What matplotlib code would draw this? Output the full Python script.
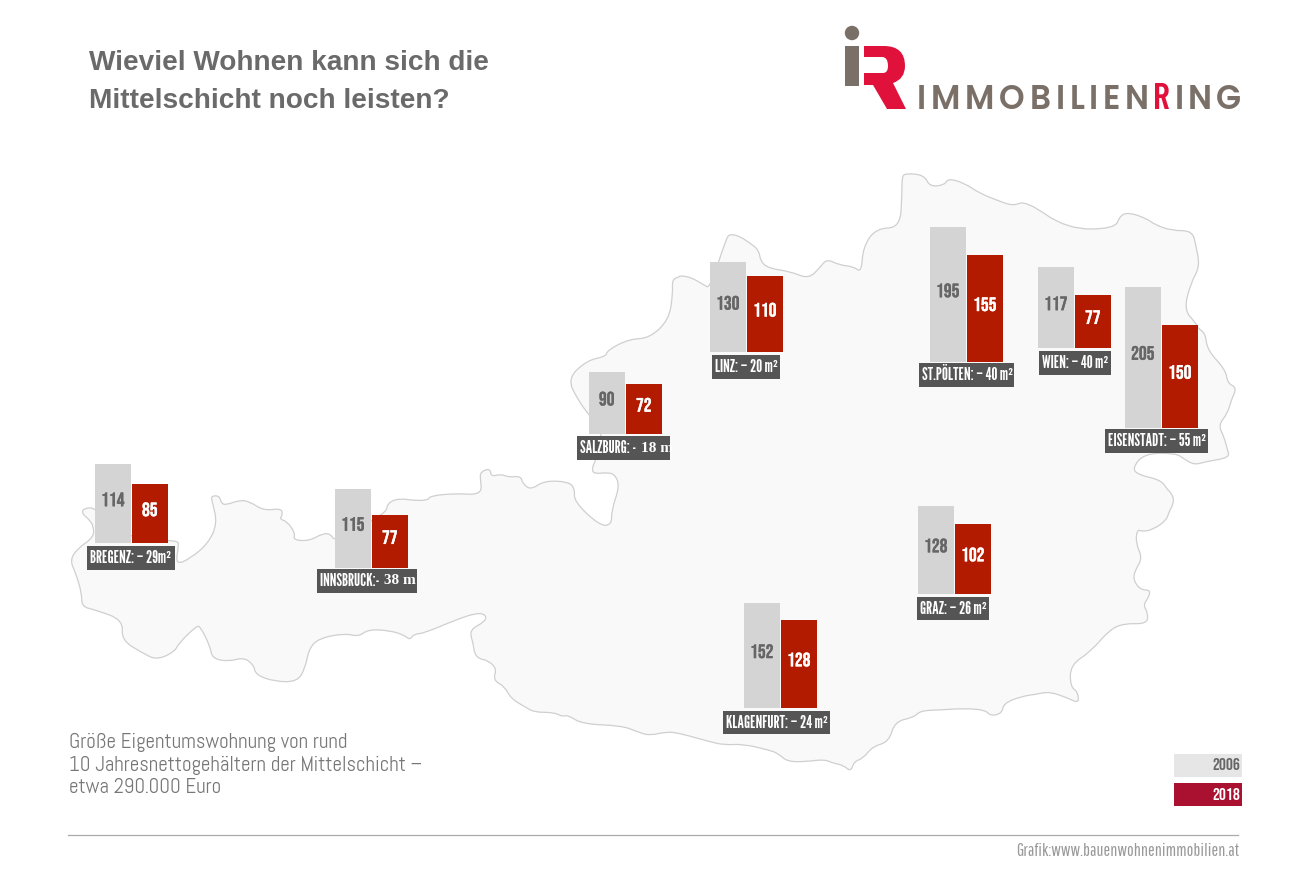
import logging
import matplotlib
matplotlib.use("Agg")
import matplotlib.pyplot as plt
from matplotlib.patches import Rectangle, Circle, PathPatch
from matplotlib.path import Path
import matplotlib.patheffects as pe

logging.getLogger("matplotlib.font_manager").setLevel(logging.ERROR)

# ---------- data ----------
cities = ["BREGENZ", "INNSBRUCK", "SALZBURG", "LINZ", "ST.PÖLTEN", "WIEN", "EISENSTADT", "GRAZ", "KLAGENFURT"]
values_2006 = [114, 115, 90, 130, 195, 117, 205, 128, 152]
values_2018 = [85, 77, 72, 110, 155, 77, 150, 102, 128]
label_main = ["BREGENZ: – 29m²", "INNSBRUCK:- ", "SALZBURG: - ", "LINZ: – 20 m²", "ST.PÖLTEN: – 40 m²",
              "WIEN: – 40 m²", "EISENSTADT: – 55 m²", "GRAZ: – 26 m²", "KLAGENFURT: – 24 m²"]
label_tail = ["", "38 m", "18 m", "", "", "", "", "", ""]
legend_years = ["2006", "2018"]
title_lines = ["Wieviel Wohnen kann sich die", "Mittelschicht noch leisten?"]
note_lines = ["Größe Eigentumswohnung von rund", "10 Jahresnettogehältern der Mittelschicht –", "etwa 290.000 Euro"]
credit = "Grafik:www.bauenwohnenimmobilien.at"

# ---------- layout (pixels) ----------
W, H = 1291, 873
PX_PER_M2 = 0.69
bar_left = [95, 335, 589, 710, 930, 1038, 1125, 918, 744]
bar_base = [543, 568, 434, 352, 362, 348, 428, 594, 708]
BAR_W, BAR_STEP = 35.5, 37
label_boxes = [(87, 175, 546, 570), (317, 417, 569, 593), (577, 670, 436, 460), (712, 780, 355, 379),
               (919, 1014, 363, 387), (1039, 1111, 351, 375), (1105, 1208, 429, 453), (917, 989, 597, 620),
               (723, 830, 711, 734)]

# outline, in local crop coordinates
seg_a = [(25,300),(45,265),(85,232),(85,200),(75,180),(55,160),(60,145),(90,142),(177,240),(298,240),(300,258),
 (292,315),(330,295),(375,250),(398,190),(385,125),(382,108),(403,107),(408,130),(420,135),(455,120),(480,125),
 (515,152),(560,145),(563,165),(555,177),(575,185),(595,220),(590,240),(630,243),(665,220),(685,222),(695,245),
 (825,160),(828,130),(855,115),(900,122),(932,120),(935,108),(1000,100),(1068,105),(1062,50),(1065,35),(1088,25),
 (1090,50),(1115,42),(1135,52),(1165,48),(1170,70),(1190,90),(1225,62),(1285,65),(1302,85),(1300,125),(1365,197),
 (1395,195),(1395,150),(1415,80),(1405,45),(1385,37),(1350,42),(1345,25),(1355,0)]
seg_b = [(1375,822),(1338,765),(1310,720),(1283,655),(1335,600),(1380,590),(1385,570),(1440,537),(1490,535),
 (1540,480),(1550,400),(1548,358),(1568,350)]
seg_c = [(0,347),(30,352),(65,375),(81,385),(125,235),(135,222),(160,228),(190,250),(213,270),(218,305),(240,325),
 (300,335),(348,357),(380,320),(397,297),(430,315),(470,320),(490,338),(495,260),(530,205),(595,203),(600,100),
 (600,50),(610,40),(660,45),(675,80),(715,75),(725,55),(770,70),(810,100),(860,122),(900,138),(935,122),(1045,207),
 (1175,207),(1190,165),(1215,158),(1260,175),(1285,195),(1330,212),(1385,212),(1395,260),(1405,320),(1380,370),
 (1362,450),(1395,490),(1400,505),(1420,520),(1425,570),(1475,630),(1480,670),(1505,683),(1490,720),(1480,760),
 (1455,795),(1470,830),(1480,870),(1485,893),(1420,905),(1390,915),(1360,895),(1340,880),(1255,880),(1222,925),
 (1240,945),(1300,960),(1318,990)]
seg_d = [(1325,65),(1337,92),(1320,130),(1315,150),(1280,178),(1250,185),(1235,178),(1232,220),(1250,265),(1230,300),
 (1225,330),(1245,360),(1272,360),(1265,385),(1252,405),(1265,430),(1262,462),(1200,460),(1160,480),(1110,545),
 (1055,585),(1055,650),(1075,665),(1078,700),(1050,685),(1000,665),(965,672),(920,680),(875,700),(870,730),(840,738),
 (825,720),(770,715),(700,720),(650,722),(632,742),(580,755),(565,815),(520,830),(495,865),(470,875),(462,905),
 (440,885),(415,880),(390,868),(340,875),(290,875),(265,850),(240,840),(170,822),(120,825),(80,815),(0,790)]
seg_e = [(1535,815),(1490,827),(1460,815),(1420,797),(1320,792),(1285,765),(1270,770),(1250,757),(1200,757),(1175,740),
 (1140,715),(1125,680),(1095,660),(1105,625),(1080,600),(1060,597),(1048,580),(1045,550),(1035,510),(1075,485),
 (1078,465),(1055,458),(1000,480),(920,520),(895,522),(885,540),(870,525),(835,512),(780,508),(755,530),(720,520),
 (655,535),(630,565),(620,625),(600,665),(545,665),(495,645),(490,615),(465,592),(425,605),(385,595),(380,560),
 (355,500),(345,498),(300,550),(290,575),(245,600),(210,580),(155,540),(160,480),(90,450),(55,440),(55,400),(40,340)]


def conv(seg, ox, oy, sx):
    return [(ox + x * sx, oy + y / 3) for x, y in seg]


outline = (conv(seg_a, 60, 460, .3954) + conv(seg_b, 60, 160, .3954) + conv(seg_c, 680, 160, .37)
           + conv(seg_d, 680, 470, .37) + conv(seg_e, 60, 460, .3954))


def smooth_closed(pts):
    mid = lambda p, q: ((p[0] + q[0]) / 2, (p[1] + q[1]) / 2)
    verts = [mid(pts[-1], pts[0])]
    codes = [Path.MOVETO]
    n = len(pts)
    for i in range(n):
        verts += [pts[i], mid(pts[i], pts[(i + 1) % n])]
        codes += [Path.CURVE3, Path.CURVE3]
    verts.append(verts[0])
    codes.append(Path.CLOSEPOLY)
    return Path(verts, codes)


# ---------- fonts ----------
F_NUM = ["Bebas Neue", "Roboto"]
F_LABEL = ["League Gothic", "Roboto"]
F_THIN = ["Pathway Gothic One", "Roboto"]
F_NOTE = ["Abel", "Lato"]
F_LOGO = ["Poppins", "DejaVu Sans"]
F_LOGO_R = ["Barlow Condensed", "Roboto"]

fig = plt.figure(figsize=(W / 100, H / 100), dpi=100, facecolor="white")
ax = fig.add_axes([0, 0, 1, 1])
ax.set_xlim(0, W)
ax.set_ylim(H, 0)
ax.axis("off")

ax.add_patch(PathPatch(smooth_closed(outline), facecolor="#f9f9f9", edgecolor="#cfcfcf", lw=0.9, zorder=1))

GREY, RED, BOX = "#d4d4d4", "#b31b00", "#555555"
renderer = fig.canvas.get_renderer()
for i, city in enumerate(cities):
    x, base = bar_left[i], bar_base[i]
    h06, h18 = values_2006[i] * PX_PER_M2, values_2018[i] * PX_PER_M2
    ax.bar(x, -h06, bottom=base, width=BAR_W, align="edge", color=GREY, zorder=2)
    ax.bar(x + BAR_STEP, -h18, bottom=base, width=BAR_W, align="edge", color=RED, zorder=2)
    ax.text(x + BAR_W / 2, base - h06 / 2 - 4.5, str(values_2006[i]), ha="center", va="center", fontsize=14,
            family=F_NUM, color="#666666", zorder=3,
            path_effects=[pe.withStroke(linewidth=0.2, foreground="#666666")])
    ax.text(x + BAR_STEP + BAR_W / 2, base - h18 / 2 - 4.5, str(values_2018[i]), ha="center", va="center", fontsize=14,
            family=F_NUM, color="white", zorder=3,
            path_effects=[pe.withStroke(linewidth=0.2, foreground="white")])
    x0, x1, y0, y1 = label_boxes[i]
    ax.add_patch(Rectangle((x0, y0), x1 - x0, y1 - y0, facecolor=BOX, edgecolor="none", zorder=3))
    t = ax.text(x0 + 3, (y0 + y1) / 2, label_main[i], ha="left", va="center", fontsize=12.2,
                family=F_LABEL, color="white", zorder=4)
    if label_tail[i]:
        right = t.get_window_extent(renderer).x1
        ax.text(right + 2, (y0 + y1) / 2, label_tail[i], ha="left", va="center", fontsize=11,
                family="Liberation Serif", weight="bold", color="white", zorder=4)

for line, y in zip(title_lines, [63, 101]):
    ax.text(89, y, line, ha="left", va="center", fontsize=20.2, family="Liberation Sans", weight="bold", color="#6a6a6a")
for line, y in zip(note_lines, [742.5, 765, 787.5]):
    ax.text(69, y, line, ha="left", va="center", fontsize=15, family=F_NOTE, color="#777777")

for yr, y0, fc, tc in zip(legend_years, [754, 783], ["#e6e6e6", "#aa1030"], ["#666666", "white"]):
    ax.add_patch(Rectangle((1174, y0), 68, 23, facecolor=fc, edgecolor="none", zorder=3))
    ax.text(1240, y0 + 10.5, yr, ha="right", va="center", fontsize=12.5, family=F_NUM, color=tc, zorder=4)

ax.plot([68, 1238], [835, 835], color="#aaaaaa", lw=0.9)
ax.text(1239, 850.5, credit, ha="right", va="center", fontsize=12.8, family=F_THIN, color="#999999")

TAUPE, LOGORED = "#7a7068", "#e0123c"
ax.add_patch(Circle((852, 33), 7.2, facecolor=TAUPE, edgecolor="none"))
ax.add_patch(Rectangle((845, 46), 13.5, 40, facecolor=TAUPE, edgecolor="none"))
verts = [(864, 46), (884, 46), (905, 46), (905, 66), (905, 79), (893, 83), (906, 109), (887, 109), (873, 85),
         (864, 85), (864, 73), (883, 73), (888, 73), (888, 66), (888, 57), (882, 57), (864, 57), (864, 46)]
codes = [Path.MOVETO, Path.LINETO, Path.CURVE3, Path.CURVE3, Path.CURVE3, Path.CURVE3, Path.LINETO, Path.LINETO, Path.LINETO,
         Path.LINETO, Path.LINETO, Path.LINETO, Path.CURVE3, Path.CURVE3, Path.CURVE3, Path.CURVE3, Path.LINETO, Path.CLOSEPOLY]
ax.add_patch(PathPatch(Path(verts, codes), facecolor=LOGORED, edgecolor="none"))
logo_kw = dict(ha="left", va="baseline", fontsize=23.5, weight=600)


def tracked(x, y, word, tracking, **kw):
    for ch in word:
        t = ax.text(x, y, ch, **kw)
        x = t.get_window_extent(renderer).x1 + tracking


tracked(917, 109, "IMMOBILIEN", 4.8, color=TAUPE, family=F_LOGO, **logo_kw)
ax.text(1153, 109, "R", color=LOGORED, family=F_LOGO_R, **{**logo_kw, "fontsize": 26})
tracked(1175, 109, "ING", 4.0, color=TAUPE, family=F_LOGO, **logo_kw)

fig.savefig("out.png", dpi=100)
